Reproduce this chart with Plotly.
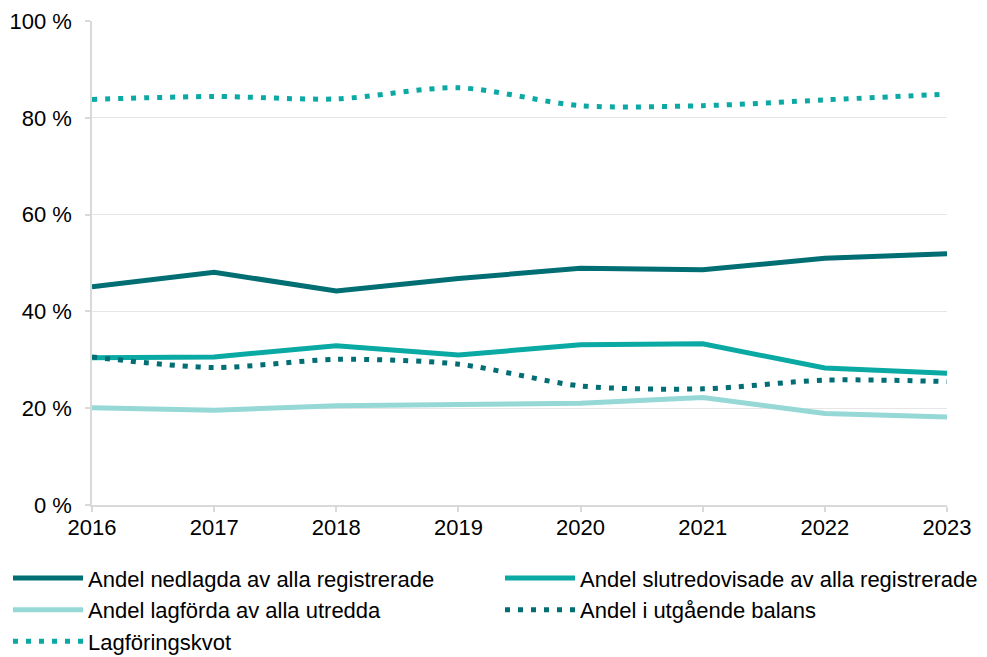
import plotly.graph_objects as go

years = [2016, 2017, 2018, 2019, 2020, 2021, 2022, 2023]
nedlagda = [45.1, 48.1, 44.2, 46.8, 48.9, 48.6, 51.0, 51.9]
slutredovisade = [30.4, 30.6, 32.9, 31.0, 33.1, 33.3, 28.3, 27.2]
lagforda = [20.1, 19.6, 20.5, 20.7, 21.0, 22.2, 18.9, 18.2]
utgaende = [30.6, 28.4, 30.1, 29.1, 24.6, 24.0, 25.8, 25.5]
lagforingskvot = [83.8, 84.4, 83.9, 86.2, 82.5, 82.5, 83.7, 84.9]

names = ["Andel nedlagda av alla registrerade",
         "Andel slutredovisade av alla registrerade",
         "Andel lagförda av alla utredda",
         "Andel i utgående balans",
         "Lagföringskvot"]

DARK = "#006E73"
MID = "#0AA9A4"
LIGHT = "#95D8D6"
GRID = "#D9D9D9"

fig = go.Figure()
fig.add_trace(go.Scatter(x=years, y=nedlagda, name=names[0], mode="lines",
                         line=dict(color=DARK, width=5)))
fig.add_trace(go.Scatter(x=years, y=slutredovisade, name=names[1], mode="lines",
                         line=dict(color=MID, width=5)))
fig.add_trace(go.Scatter(x=years, y=lagforda, name=names[2], mode="lines",
                         line=dict(color=LIGHT, width=5)))
fig.add_trace(go.Scatter(x=years, y=utgaende, name=names[3], mode="lines",
                         line=dict(color=DARK, width=5, dash="5px,8px", shape="spline", smoothing=0.8)))
fig.add_trace(go.Scatter(x=years, y=lagforingskvot, name=names[4], mode="lines",
                         line=dict(color=MID, width=5, dash="5px,8px", shape="spline", smoothing=0.8)))

# plot area: x 92..947 ; size area extends to right edge so legend can hold two columns
fig.update_layout(
    width=987, height=657,
    margin=dict(l=92, r=0, t=21, b=152, autoexpand=False),
    paper_bgcolor="white", plot_bgcolor="white",
    font=dict(family="Liberation Sans, Arial, sans-serif", size=22, color="#000000"),
    showlegend=True,
    legend=dict(orientation="h", x=-84 / 895, xanchor="left", y=-0.108, yanchor="top",
                entrywidth=407, entrywidthmode="pixels", itemwidth=70,
                font=dict(size=22), tracegroupgap=0, itemclick=False,
                bgcolor="rgba(0,0,0,0)"),
    xaxis=dict(domain=[0, 855 / 895], range=[2016, 2023], tickmode="array", tickvals=years,
               ticktext=[str(y) for y in years],
               showgrid=False, showline=True, linecolor=GRID, linewidth=1.5,
               ticks="outside", ticklen=5, tickcolor=GRID, tickwidth=1.5, zeroline=False,
               ticklabelstandoff=-3),
    yaxis=dict(range=[0, 100], dtick=20, ticksuffix=" %",
               showgrid=True, gridcolor="#E6E6E6", gridwidth=1,
               showline=True, linecolor=GRID, linewidth=1.5,
               ticks="outside", ticklen=5, tickcolor=GRID, tickwidth=1.5, zeroline=False,
               ticklabelstandoff=9),
)

fig.write_html("out.html", config={"displayModeBar": False},
               post_script="document.body.style.margin='0';")
